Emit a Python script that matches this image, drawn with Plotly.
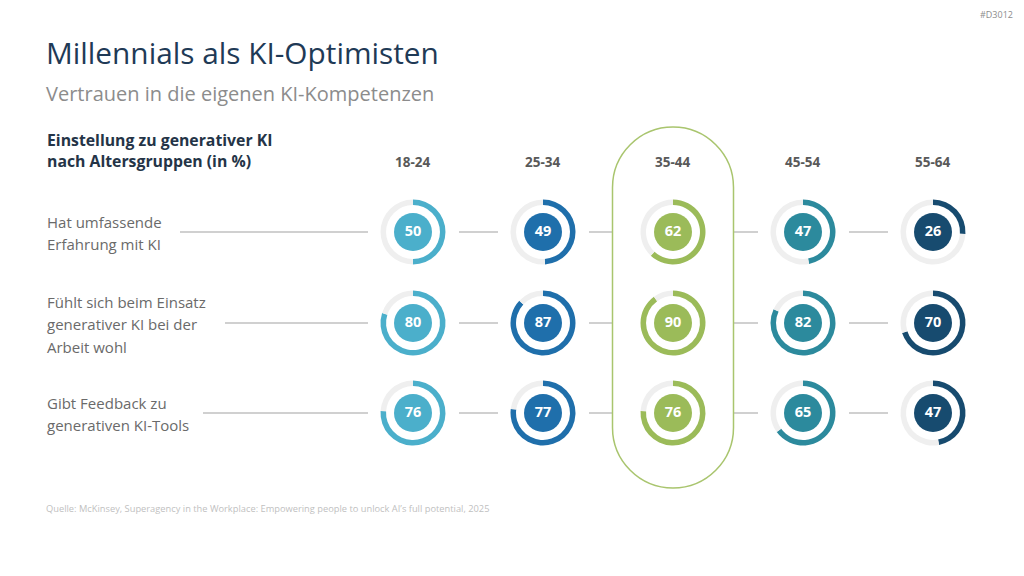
import plotly.graph_objects as go

# ---------------- data ----------------
age_groups = ["18-24", "25-34", "35-44", "45-54", "55-64"]
row_labels = [
    ["Hat umfassende", "Erfahrung mit KI"],
    ["Fühlt sich beim Einsatz", "generativer KI bei der", "Arbeit wohl"],
    ["Gibt Feedback zu", "generativen KI-Tools"],
]
erfahrung = [50, 49, 62, 47, 26]
wohlgefuehl = [80, 87, 90, 82, 70]
feedback = [76, 77, 76, 65, 47]
series = [erfahrung, wohlgefuehl, feedback]
group_colors = ["#4BAFCB", "#1F6FAB", "#9BBB59", "#2C8A9D", "#174B6F"]
highlight_group = "35-44"

title = "Millennials als KI-Optimisten"
subtitle = "Vertrauen in die eigenen KI-Kompetenzen"
heading = ["Einstellung zu generativer KI", "nach Altersgruppen (in %)"]
source = "Quelle: McKinsey, Superagency in the Workplace: Empowering people to unlock AI’s full potential, 2025"
code = "#D3012"

# ---------------- layout constants ----------------
W, H = 1024, 576
X0, DX = 413, 130          # column centres
ROW_Y = [232, 323, 413]    # row centres
R_OUT = 32.5
HOLE = 0.83
INNER = 38
RING_GRAY = "#EFEFEF"
LINE_GRAY = "#C0C0C0"
LABEL_LINE_START = [180, 225, 203]
FONT = "Open Sans"

fig = go.Figure()

col_x = [X0 + i * DX for i in range(len(age_groups))]

# connector lines
shapes = []
for r, y in enumerate(ROW_Y):
    shapes.append(dict(type="line", xref="x", yref="y", x0=LABEL_LINE_START[r], x1=col_x[0] - 45,
                       y0=y, y1=y, line=dict(color=LINE_GRAY, width=1.3), layer="below"))
    for i in range(len(col_x) - 1):
        shapes.append(dict(type="line", xref="x", yref="y", x0=col_x[i] + 46, x1=col_x[i + 1] - 45,
                           y0=y, y1=y, line=dict(color=LINE_GRAY, width=1.3), layer="below"))

# highlight stadium (rounded ends built from cubic Bezier quarter circles)
hi = age_groups.index(highlight_group)
hx = col_x[hi]
rr = 60.5
hl, hr, ht, hb = hx - rr, hx + rr, 127, 488
k = 0.5523 * rr
path = (f"M {hl},{ht + rr} "
        f"C {hl},{ht + rr - k} {hx - k},{ht} {hx},{ht} "
        f"C {hx + k},{ht} {hr},{ht + rr - k} {hr},{ht + rr} "
        f"L {hr},{hb - rr} "
        f"C {hr},{hb - rr + k} {hx + k},{hb} {hx},{hb} "
        f"C {hx - k},{hb} {hl},{hb - rr + k} {hl},{hb - rr} Z")
shapes.append(dict(type="path", xref="x", yref="y", path=path, fillcolor="white",
                   line=dict(color="#A9C56E", width=1.5), layer="below"))

# donut rings
for r, vals in enumerate(series):
    cy = ROW_Y[r]
    for i, v in enumerate(vals):
        cx = col_x[i]
        fig.add_trace(go.Pie(
            values=[v, 100 - v], sort=False, direction="clockwise", rotation=0,
            hole=HOLE, textinfo="none", hoverinfo="skip", showlegend=False,
            marker=dict(colors=[group_colors[i], RING_GRAY], line=dict(width=0)),
            domain=dict(x=[(cx - R_OUT) / W, (cx + R_OUT) / W],
                        y=[1 - (cy + R_OUT) / H, 1 - (cy - R_OUT) / H]),
        ))

# inner circles with values
for r, vals in enumerate(series):
    fig.add_trace(go.Scatter(
        x=col_x, y=[ROW_Y[r]] * len(vals), mode="markers+text",
        text=[str(v) for v in vals], textposition="middle center",
        textfont=dict(family=FONT, size=14.5, color="white", weight="bold"),
        marker=dict(size=INNER, color=group_colors, line=dict(width=0)),
        hoverinfo="skip", showlegend=False, cliponaxis=False,
    ))

ann = []
def txt(x, y, s, size, color, bold=False, xanchor="left"):
    ann.append(dict(x=x, y=y, xref="x", yref="y", text=s, showarrow=False,
                    xanchor=xanchor, yanchor="middle",
                    font=dict(family=FONT, size=size, color=color,
                              weight="bold" if bold else "normal")))

txt(44, 52, title, 29.8, "#1F3A56")
txt(44, 93, subtitle, 20, "#8C8C8C")
txt(1015, 14, code, 9, "#8C8C8C", xanchor="right")
txt(45, 140, heading[0], 15.8, "#243447", bold=True)
txt(45, 161, heading[1], 15.8, "#243447", bold=True)
for i, g in enumerate(age_groups):
    txt(col_x[i], 162, g, 13.5, "#595959", bold=True, xanchor="center")
LINE_SP = 22.5
for r, lines in enumerate(row_labels):
    n = len(lines)
    for kk, s in enumerate(lines):
        y = ROW_Y[r] + 1 + (kk - (n - 1) / 2) * LINE_SP
        txt(45, y, s, 15, "#6A6A6A")
txt(44, 508, source, 9.3, "#BFBFBF")

fig.update_layout(
    width=W, height=H, margin=dict(l=0, r=0, t=0, b=0),
    paper_bgcolor="white", plot_bgcolor="white",
    xaxis=dict(range=[0, W], visible=False, fixedrange=True, domain=[0, 1]),
    yaxis=dict(range=[H, 0], visible=False, fixedrange=True, domain=[0, 1]),
    shapes=shapes, annotations=ann,
)

fig.write_html("out.html")
